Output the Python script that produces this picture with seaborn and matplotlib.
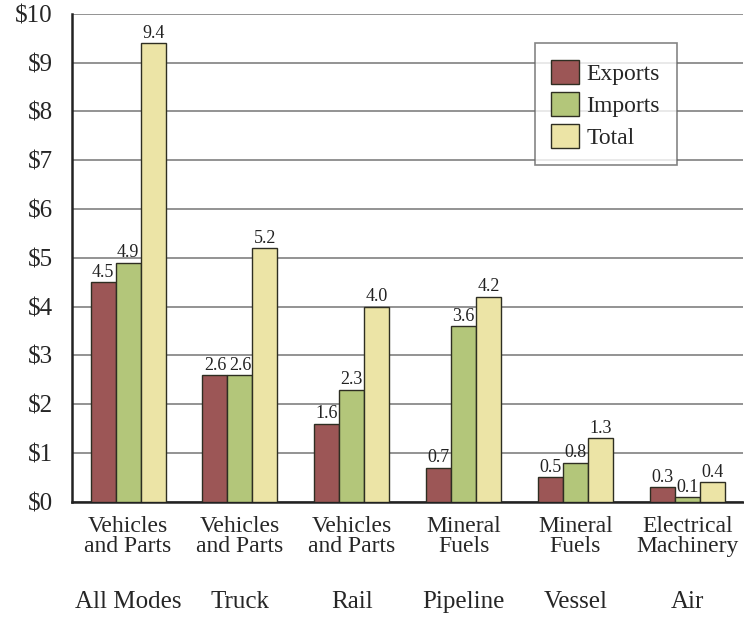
import pandas as pd
import numpy as np
import seaborn as sns
import matplotlib.pyplot as plt
import matplotlib.transforms as mtransforms

# data (billions of dollars)
modes = ['All Modes', 'Truck', 'Rail', 'Pipeline', 'Vessel', 'Air']
commodities = ['Vehicles\nand Parts', 'Vehicles\nand Parts', 'Vehicles\nand Parts',
               'Mineral\nFuels', 'Mineral\nFuels', 'Electrical\nMachinery']
exports = [4.5, 2.6, 1.6, 0.7, 0.5, 0.3]
imports = [4.9, 2.6, 2.3, 3.6, 0.8, 0.1]
total = [9.4, 5.2, 4.0, 4.2, 1.3, 0.4]
series = ['Exports', 'Imports', 'Total']
colors = ['#9c5656', '#b3c67a', '#ece4a6']

df = pd.DataFrame({
    'mode': modes * 3,
    'series': np.repeat(series, len(modes)),
    'value': exports + imports + total,
})

sns.set_style('white')
plt.rcParams['font.family'] = ['Liberation Serif', 'DejaVu Serif']

fig, ax = plt.subplots(figsize=(7.44, 6.25), dpi=100)
fig.subplots_adjust(left=0.097, right=0.999, bottom=0.197, top=0.978)

sns.barplot(data=df, x='mode', y='value', hue='series', order=modes,
            hue_order=series, palette=colors, width=0.67, saturation=1,
            edgecolor='#2e2e22', linewidth=1.0, ax=ax, zorder=3)

for cont in ax.containers:
    ax.bar_label(cont, fmt='%.1f', padding=1, fontsize=13, color='#222222')

ax.set_ylim(0, 10)
ax.set_xlim(-0.5, 5.5)
ax.set_yticks(range(0, 11))
ax.set_yticklabels(['$%d' % v for v in range(0, 11)], fontsize=18)
ax.set_xticks(range(len(modes)))
ax.set_xticklabels(commodities, fontsize=17, linespacing=0.95)
ax.tick_params(axis='x', length=0, pad=10)
ax.tick_params(axis='y', length=0, pad=14)
ax.set_xlabel('')
ax.set_ylabel('')

ax.yaxis.grid(True, color='#8a8a8a', linewidth=1.3, zorder=0)
ax.set_axisbelow(True)
for s in ['top', 'right']:
    ax.spines[s].set_visible(False)
for s in ['left', 'bottom']:
    ax.spines[s].set_color('#222222')
    ax.spines[s].set_linewidth(1.8)

trans = mtransforms.blended_transform_factory(ax.transData, fig.transFigure)
for i, m in enumerate(modes):
    ax.text(i, 0.027, m, transform=trans, ha='center', va='baseline', fontsize=18)

leg = ax.legend(loc='upper left', bbox_to_anchor=(0.689, 0.94), fontsize=17,
                frameon=True, fancybox=False, edgecolor='#666666',
                handlelength=1.2, handleheight=1.2, labelspacing=0.3,
                borderpad=0.7, handletextpad=0.3, borderaxespad=0)
leg.get_frame().set_linewidth(1.2)
leg.set_title(None)

fig.savefig('out.png', dpi=100)
